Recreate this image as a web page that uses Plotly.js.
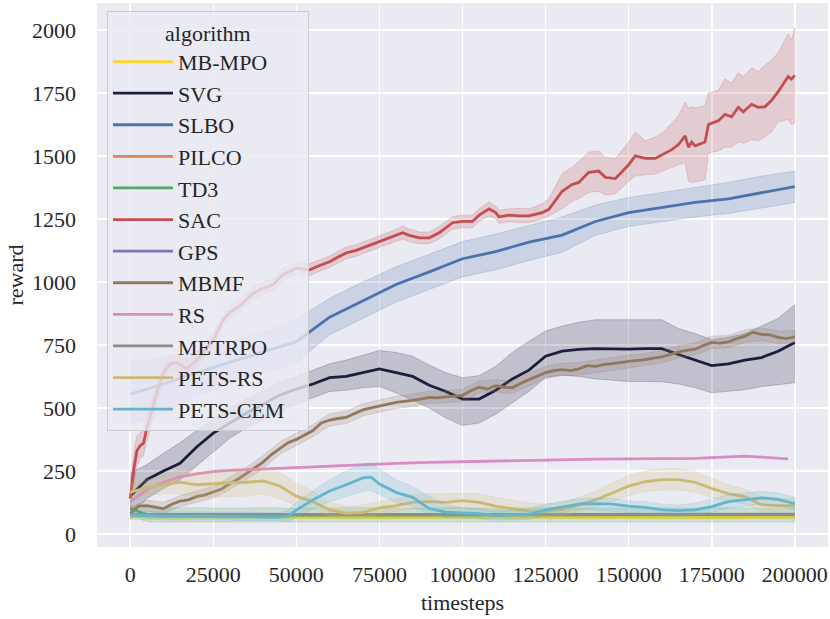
<!DOCTYPE html>
<html>
<head>
<meta charset="utf-8">
<script src="https://cdn.plot.ly/plotly-3.0.1.min.js"></script>
<style>html,body{margin:0;padding:0;background:#fff;}#chart{width:830px;height:619px;}</style>
</head>
<body>
<div id="chart"></div>
<script>
// ---------------- data ----------------
const algorithms = ["MB-MPO","SVG","SLBO","PILCO","TD3","SAC","GPS","MBMF","RS","METRPO","PETS-RS","PETS-CEM"];
const xTicks = [0,25000,50000,75000,100000,125000,150000,175000,200000];
const yTicks = [0,250,500,750,1000,1250,1500,1750,2000];

const mbmpo_t    = [0,25000,50000,75000,100000,125000,150000,175000,200000];
const mbmpo_mean = [67,66,67,66,67,66,67,66,67];

const svg_t    = [0,5000,10000,15000,20000,25000,30000,35000,40000,45000,50000,55000,60000,65000,70000,75000,80000,85000,90000,95000,100000,105000,110000,115000,120000,125000,130000,135000,140000,145000,150000,155000,160000,165000,170000,175000,180000,185000,190000,195000,200000];
const svg_mean = [150,215,250,280,345,400,440,480,515,550,575,595,620,625,640,655,640,625,590,565,535,535,570,615,650,705,725,732,735,733,733,735,735,712,690,668,675,690,700,725,760];
const svg_hi   = [240,275,320,362,410,455,500,535,570,600,625,650,675,690,710,728,720,705,670,640,620,628,665,720,765,805,825,840,850,850,848,848,850,815,795,771,780,795,825,855,910];
const svg_lo   = [70,140,180,215,270,325,380,420,455,490,515,540,565,570,580,585,560,530,500,460,430,440,475,520,565,622,630,625,615,610,605,605,604,595,580,560,565,572,585,592,600];

const slbo_t    = [0,10000,20000,30000,40000,50000,60000,70000,80000,90000,100000,110000,120000,130000,140000,150000,160000,170000,180000,190000,200000];
const slbo_mean = [555,595,640,680,720,763,860,925,990,1040,1092,1120,1158,1186,1240,1275,1296,1316,1330,1355,1378];
const slbo_hi   = [680,700,725,760,800,850,935,1000,1060,1110,1160,1190,1225,1258,1305,1335,1355,1375,1395,1420,1440];
const slbo_lo   = [430,480,545,595,640,680,790,855,920,970,1020,1048,1085,1118,1185,1220,1238,1258,1272,1295,1315];

// PILCO and GPS: listed in the legend, no visible curve in the plot
const pilco_t = [null], pilco_mean = [null];

const td3_t    = [0,2000,4000,6000,10000,20000,30000,40000,50000,60000,70000,80000,90000,100000,110000,120000,130000,140000,150000,160000,170000,180000,190000,200000];
const td3_mean = [100,92,80,76,75,76,75,76,75,75,76,75,75,76,75,75,76,75,75,76,75,76,75,77];
const td3_hi   = [110,105,104,103,103,104,102,104,102,103,104,102,103,104,102,103,104,102,103,104,102,104,102,104];
const td3_lo   = [85,68,52,47,46,45,47,46,47,45,47,46,44,47,46,47,45,47,44,46,47,45,47,47];

const sac_t    = [0,1000,2000,3000,4000,5000,6000,8000,10000,12000,14000,17000,20000,22000,25000,28000,30000,33000,37000,40000,43000,46000,50000,54000,57000,60000,62000,65000,68000,71000,74000,77000,80000,82000,84000,87000,90000,93000,97000,100000,103000,105000,108000,110000,111000,114000,117000,120000,124000,126000,130000,133000,135000,138000,141000,143000,146000,150000,152000,155000,158000,160000,163000,165000,167000,168000,169000,170000,173000,174000,177000,179000,181000,183000,184500,187000,189000,191000,193000,195000,198000,199000,200000];
const sac_mean = [140,250,330,350,360,420,465,560,640,675,680,655,690,720,770,850,880,905,955,975,990,1030,1055,1048,1065,1080,1095,1115,1125,1140,1155,1170,1185,1195,1185,1175,1175,1195,1235,1240,1240,1265,1290,1275,1258,1265,1262,1262,1275,1288,1360,1387,1395,1435,1440,1415,1410,1465,1500,1490,1490,1505,1525,1545,1580,1535,1555,1540,1555,1625,1640,1665,1655,1693,1675,1705,1693,1695,1720,1755,1815,1805,1820];
const sac_hi   = [190,320,390,400,420,470,520,600,675,705,710,690,720,750,800,875,905,930,980,1000,1015,1055,1078,1072,1088,1103,1118,1138,1148,1163,1178,1193,1208,1222,1210,1198,1198,1220,1260,1265,1265,1290,1318,1300,1285,1290,1292,1290,1310,1330,1430,1455,1480,1515,1520,1495,1490,1555,1595,1560,1575,1590,1630,1660,1713,1690,1695,1690,1700,1750,1760,1805,1790,1830,1815,1850,1835,1860,1880,1910,1985,1960,2010];
const sac_lo   = [90,190,270,300,310,370,410,520,605,645,650,625,660,690,740,825,855,880,930,950,965,1005,1032,1025,1042,1057,1072,1092,1102,1117,1132,1147,1162,1170,1160,1152,1152,1170,1210,1215,1215,1240,1262,1250,1232,1240,1236,1236,1250,1262,1290,1320,1330,1355,1360,1345,1350,1400,1420,1425,1428,1440,1455,1465,1474,1400,1395,1398,1405,1512,1520,1535,1535,1555,1550,1565,1560,1575,1595,1635,1645,1625,1630];

const gps_t = [null], gps_mean = [null];

const mbmf_t    = [0,2500,5000,7500,10000,12500,15000,17500,20000,22500,25000,27500,30000,32500,35000,37500,40000,42500,45000,47500,50000,52500,55000,57500,60000,62500,65000,67500,70000,72500,75000,77500,80000,82500,85000,87500,90000,92500,95000,97500,100000,102500,105000,107500,110000,112500,115000,117500,120000,122500,125000,127500,130000,132500,135000,137500,140000,142500,145000,147500,150000,152500,155000,157500,160000,162500,165000,167500,170000,172500,175000,177500,180000,182500,185000,187500,190000,192500,195000,197500,200000];
const mbmf_mean = [80,110,112,105,100,118,130,135,148,155,165,178,200,218,240,262,285,315,340,362,375,392,410,440,452,458,462,478,492,500,508,515,522,526,530,535,542,540,544,546,550,568,582,575,588,582,580,598,612,625,640,648,652,648,655,668,665,672,675,680,685,688,692,698,703,712,722,728,733,748,760,757,762,775,785,800,792,790,780,775,782];
const mbmf_band_t = [0,5000,10000,15000,20000,25000,30000,35000,40000,45000,50000,55000,60000,65000,70000,75000,80000,85000,90000,95000,100000,105000,110000,115000,120000,125000,130000,135000,140000,145000,150000,155000,160000,165000,170000,175000,180000,185000,190000,195000,200000];
const mbmf_hi = [105,135,125,152,170,188,225,265,310,365,400,433,477,487,517,533,546,555,567,568,575,607,613,605,637,665,677,680,690,700,710,717,728,747,758,785,787,810,817,805,808];
const mbmf_lo = [60,90,80,108,126,142,176,216,260,316,350,386,428,438,468,484,498,506,518,520,526,558,564,556,588,616,628,630,640,651,661,668,678,698,709,736,738,760,768,756,758];

const rs_t    = [0,5000,10000,15000,20000,25000,30000,40000,50000,60000,70000,80000,90000,100000,110000,120000,130000,140000,150000,160000,170000,180000,185000,190000,198000];
const rs_mean = [128,175,205,226,238,247,252,258,263,268,275,280,284,287,290,293,296,297,298,298,300,306,309,305,298];

const metrpo_t    = [0,25000,50000,75000,100000,125000,150000,175000,200000];
const metrpo_mean = [77,77,78,77,78,77,78,77,78];

const petsrs_t    = [0,5000,10000,15000,20000,25000,30000,35000,40000,45000,50000,55000,60000,65000,70000,75000,80000,85000,90000,95000,100000,105000,110000,115000,120000,125000,130000,135000,140000,145000,150000,155000,160000,165000,170000,175000,180000,185000,190000,195000,200000];
const petsrs_mean = [165,185,195,205,195,200,203,205,210,190,150,128,95,82,85,103,112,125,128,125,132,125,110,100,90,88,97,115,135,162,190,207,215,215,205,180,160,148,115,112,112];
const petsrs_hi   = [200,215,235,255,250,255,260,262,262,245,200,170,125,110,115,130,140,155,160,158,162,160,145,135,122,118,125,145,170,200,232,250,258,258,248,220,195,178,148,140,140];
const petsrs_lo   = [135,155,160,160,145,145,148,150,158,140,110,95,70,62,62,78,88,98,100,98,102,95,82,72,65,65,72,88,105,128,152,168,175,175,165,145,128,120,90,88,88];

const petscem_t    = [0,5000,10000,15000,20000,25000,30000,35000,40000,45000,47500,50000,55000,60000,65000,70000,72500,75000,80000,85000,90000,95000,100000,105000,110000,115000,120000,125000,130000,135000,140000,145000,150000,155000,160000,165000,170000,175000,180000,185000,190000,195000,200000];
const petscem_mean = [75,72,70,70,70,70,70,68,67,67,70,95,135,170,195,222,225,198,165,145,100,86,83,80,73,75,78,95,108,118,120,118,110,105,95,92,95,108,128,135,143,137,120];
const petscem_hi   = [95,90,88,88,88,88,88,86,85,85,95,125,170,215,250,278,282,258,215,188,150,115,105,100,92,95,100,118,130,140,142,140,132,128,118,115,122,138,155,162,168,162,145];
const petscem_lo   = [58,57,55,55,55,55,55,53,52,52,50,68,100,128,148,168,172,155,125,108,78,65,62,60,55,56,58,72,85,95,95,92,85,80,72,70,75,85,102,110,118,112,95];

// ---------------- styling ----------------
const colors = {
  "MB-MPO":"#ffd42a","SVG":"#1e1e3c","SLBO":"#4c72b0","PILCO":"#dd8452","TD3":"#55a868",
  "SAC":"#c44e52","GPS":"#8172b3","MBMF":"#937860","RS":"#da8bc3","METRPO":"#8c8c8c",
  "PETS-RS":"#ccb974","PETS-CEM":"#64b5cd"
};
function rgba(hex,a){const n=parseInt(hex.slice(1),16);return `rgba(${(n>>16)&255},${(n>>8)&255},${n&255},${a})`;}

const series = {
  "MB-MPO":{t:mbmpo_t,m:mbmpo_mean},
  "SVG":{t:svg_t,m:svg_mean,bt:svg_t,hi:svg_hi,lo:svg_lo},
  "SLBO":{t:slbo_t,m:slbo_mean,bt:slbo_t,hi:slbo_hi,lo:slbo_lo},
  "PILCO":{t:pilco_t,m:pilco_mean},
  "TD3":{t:td3_t,m:td3_mean,bt:td3_t,hi:td3_hi,lo:td3_lo},
  "SAC":{t:sac_t,m:sac_mean,bt:sac_t,hi:sac_hi,lo:sac_lo},
  "GPS":{t:gps_t,m:gps_mean},
  "MBMF":{t:mbmf_t,m:mbmf_mean,bt:mbmf_band_t,hi:mbmf_hi,lo:mbmf_lo},
  "RS":{t:rs_t,m:rs_mean},
  "METRPO":{t:metrpo_t,m:metrpo_mean},
  "PETS-RS":{t:petsrs_t,m:petsrs_mean,bt:petsrs_t,hi:petsrs_hi,lo:petsrs_lo},
  "PETS-CEM":{t:petscem_t,m:petscem_mean,bt:petscem_t,hi:petscem_hi,lo:petscem_lo}
};

const traces = [];
algorithms.forEach(name=>{
  const s = series[name], c = colors[name];
  traces.push({type:'scatter',mode:'lines',name:name,x:s.t,y:s.m,
    line:{color:c,width:2.8},showlegend:true,hoverinfo:'skip'});
  if(s.hi){
    traces.push({type:'scatter',mode:'lines',name:name+' band',
      x:s.bt.concat(s.bt.slice().reverse()),
      y:s.hi.concat(s.lo.slice().reverse()),
      fill:'toself',fillcolor:rgba(c,0.2),
      line:{color:rgba(c,0.22),width:1},showlegend:false,hoverinfo:'skip'});
  }
});

const FONT = "Liberation Serif";
const TXT = '#262626';
const NB = '&nbsp;';
const layout = {
  width:830,height:619,
  margin:{l:97,r:2,t:3,b:72},
  paper_bgcolor:'#ffffff',plot_bgcolor:'#eaeaf2',
  font:{family:FONT,size:22,color:TXT},
  showlegend:true,
  xaxis:{range:[-10000,210000],tickvals:xTicks,ticktext:xTicks.map(String),
    showgrid:true,gridcolor:'#ffffff',gridwidth:1.6,zeroline:false,showline:false,
    ticks:'',ticklabelstandoff:12,tickfont:{family:FONT,size:22,color:TXT},
    title:{text:'timesteps',font:{family:FONT,size:22,color:TXT},standoff:8}},
  yaxis:{range:[-52,2107],tickvals:yTicks,ticktext:yTicks.map(String),
    showgrid:true,gridcolor:'#ffffff',gridwidth:1.6,zeroline:false,showline:false,
    ticks:'',ticklabelstandoff:20,tickfont:{family:FONT,size:22,color:TXT},
    title:{text:'reward',font:{family:FONT,size:22,color:TXT},standoff:2}},
  legend:{x:0.0137,y:0.985,xanchor:'left',yanchor:'top',
    bgcolor:'rgba(234,234,242,0.8)',bordercolor:'#cccccc',borderwidth:1,
    font:{family:FONT,size:22,color:TXT},
    title:{text:NB.repeat(10)+'algorithm'+NB.repeat(10),side:'top',font:{family:FONT,size:22,color:TXT}},
    itemwidth:60,traceorder:'normal'}
};

Plotly.newPlot('chart',traces,layout,{staticPlot:true,displayModeBar:false});
</script>
</body>
</html>
